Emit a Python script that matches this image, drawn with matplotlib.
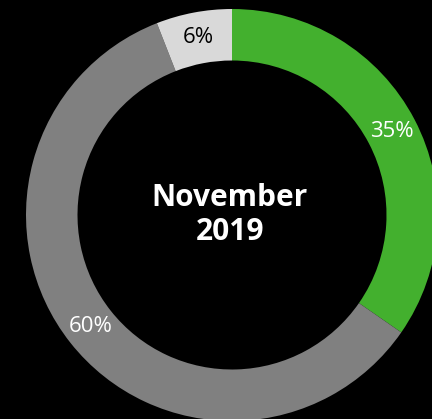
import matplotlib
matplotlib.use("Agg")
import matplotlib.pyplot as plt
import numpy as np

# Share of the month, clockwise from 12 o'clock
categories = ["Green", "Grey", "Light grey"]
values = [35, 60, 6]
labels = [f"{v}%" for v in values]
colors = ["#43b02e", "#808080", "#d9d9d9"]
label_colors = ["white", "white", "#000000"]
title = "November\n2019"

plt.rcParams["font.family"] = ["Open Sans", "DejaVu Sans"]

W, H = 432, 419
fig = plt.figure(figsize=(W / 100, H / 100), dpi=100, facecolor="black")
ax = fig.add_axes([0, 0, 1, 1])
ax.set_facecolor("black")

wedges, _ = ax.pie(values, colors=colors, startangle=90, counterclock=False,
                   radius=1.0, wedgeprops=dict(width=0.25, edgecolor="none"))

# Donut centre and radius in pixels, converted to data limits
cx, cy, R = 232, 215, 206
ax.set_aspect("auto")
ax.set_xlim(-cx / R, (W - cx) / R)
ax.set_ylim(-(H - cy) / R, cy / R)
ax.axis("off")

total = sum(values)
start = 90.0
for v, lab, lc in zip(values, labels, label_colors):
    sweep = 360.0 * v / total
    mid = np.deg2rad(start - sweep / 2)
    r = 0.875
    ax.text(r * np.cos(mid), r * np.sin(mid), lab, ha="center", va="center",
            fontsize=16, color=lc)
    start -= sweep

ax.text(-0.01, 0.0, title, ha="center", va="center", fontsize=21.5,
        fontweight="bold", color="white", linespacing=1.2)

fig.savefig("out.png", dpi=100, facecolor="black")
